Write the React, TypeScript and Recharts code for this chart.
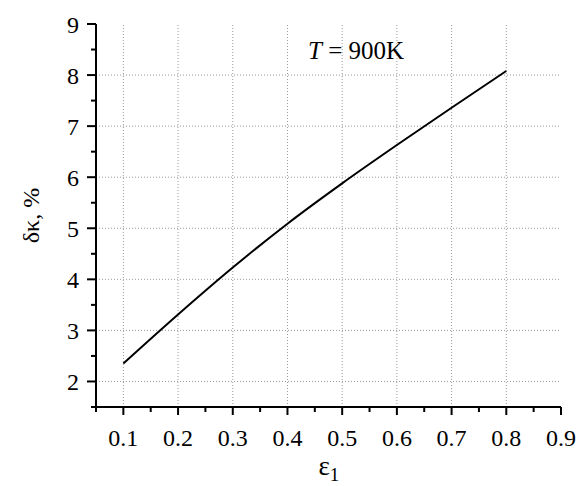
import React from "react";
import { LineChart, Line, XAxis, YAxis, ReferenceLine, ReferenceDot, Label } from "recharts";

const epsilon = [0.1, 0.2, 0.3, 0.4, 0.5, 0.6, 0.7, 0.8];
const deltaKappa = [2.35, 3.31, 4.23, 5.09, 5.88, 6.63, 7.36, 8.08];

const xMajorTicks = [0.1, 0.2, 0.3, 0.4, 0.5, 0.6, 0.7, 0.8, 0.9];
const xMinorTicks = [0.05, 0.15, 0.25, 0.35, 0.45, 0.55, 0.65, 0.75, 0.85];
const xTickLabels = ["0.1", "0.2", "0.3", "0.4", "0.5", "0.6", "0.7", "0.8", "0.9"];
const yMajorTicks = [2, 3, 4, 5, 6, 7, 8, 9];
const yMinorTicks = [1.5, 2.5, 3.5, 4.5, 5.5, 6.5, 7.5, 8.5];
const yTickLabels = ["2", "3", "4", "5", "6", "7", "8", "9"];
const xGrid = [0.1, 0.2, 0.3, 0.4, 0.5, 0.6, 0.7, 0.8];
const yGrid = [2, 3, 4, 5, 6, 7, 8];
const annotation = { x: 0.4376, y: 8.315, text: "900K" };

const data = epsilon.map((e, i) => ({ e, v: deltaKappa[i] }));
const FONT = "Liberation Serif";

const XTick = (props: any) => {
  const { x, y, payload } = props;
  const idx = xMajorTicks.indexOf(payload.value);
  const major = idx >= 0;
  return (
    <g>
      <line x1={x} x2={x} y1={y} y2={y + (major ? 8 : 5)} stroke="#000" strokeWidth={2} />
      {major && (
        <text x={x} y={y + 39} textAnchor="middle" style={{ fontFamily: FONT, fontSize: 24 }} fill="#000">
          {xTickLabels[idx]}
        </text>
      )}
    </g>
  );
};

const YTick = (props: any) => {
  const { x, y, payload } = props;
  const idx = yMajorTicks.indexOf(payload.value);
  const major = idx >= 0;
  return (
    <g>
      <line x1={x - (major ? 9 : 5)} x2={x} y1={y} y2={y} stroke="#000" strokeWidth={2} />
      {major && (
        <text x={x - 17} y={y + 8.5} textAnchor="end" style={{ fontFamily: FONT, fontSize: 24 }} fill="#000">
          {yTickLabels[idx]}
        </text>
      )}
    </g>
  );
};

export default function App() {
  const xTicks = [...xMajorTicks, ...xMinorTicks].sort((a, b) => a - b);
  const yTicks = [...yMajorTicks, ...yMinorTicks].sort((a, b) => a - b);
  return (
    <div style={{ position: "fixed", left: 0, top: 0, width: 577, height: 486, background: "#fff" }}>
      <LineChart
        width={577}
        height={486}
        data={data}
        margin={{ top: 24, right: 16, bottom: 0, left: 0 }}
        style={{ fontFamily: FONT, overflow: "visible" }}
      >
        {xGrid.map((g) => (
          <ReferenceLine key={"vx" + g} x={g} stroke="#9a9a9a" strokeWidth={1} strokeDasharray="1 2" />
        ))}
        {yGrid.map((g) => (
          <ReferenceLine key={"hy" + g} y={g} stroke="#9a9a9a" strokeWidth={1} strokeDasharray="1 2" />
        ))}
        <XAxis
          dataKey="e"
          type="number"
          domain={[0.05, 0.9]}
          ticks={xTicks}
          interval={0}
          tickSize={0}
          tickMargin={0}
          tickLine={false}
          axisLine={{ stroke: "#000", strokeWidth: 2 }}
          tick={<XTick />}
          height={79}
        >
          <Label
            content={(p: any) => {
              const vb = p.viewBox;
              const cx = vb.x + vb.width / 2;
              return (
                <text x={cx - 10} y={475} style={{ fontFamily: FONT }} fill="#000">
                  <tspan style={{ fontSize: 27 }}>ε</tspan>
                  <tspan style={{ fontSize: 19 }} dy={6}>1</tspan>
                </text>
              );
            }}
          />
        </XAxis>
        <YAxis
          type="number"
          domain={[1.5, 9]}
          ticks={yTicks}
          interval={0}
          tickSize={0}
          tickMargin={0}
          tickLine={false}
          axisLine={{ stroke: "#000", strokeWidth: 2 }}
          tick={<YTick />}
          width={96}
        >
          <Label
            content={(p: any) => {
              const vb = p.viewBox;
              const cy = vb.y + vb.height / 2;
              return (
                <text
                  x={39}
                  y={cy}
                  transform={`rotate(-90, 39, ${cy})`}
                  textAnchor="middle"
                  style={{ fontFamily: FONT, fontSize: 24 }}
                  fill="#000"
                >
                  δκ, %
                </text>
              );
            }}
          />
        </YAxis>
        <ReferenceDot
          x={annotation.x}
          y={annotation.y}
          r={0}
          shape={(p: any) => (
            <text x={p.cx} y={p.cy} style={{ fontFamily: FONT, fontSize: 25 }} fill="#000">
              <tspan style={{ fontStyle: "italic" }}>T</tspan>
              <tspan> = {annotation.text}</tspan>
            </text>
          )}
        />
        <Line
          dataKey="v"
          type="monotone"
          stroke="#000"
          strokeWidth={2}
          dot={false}
          isAnimationActive={false}
        />
      </LineChart>
    </div>
  );
}
